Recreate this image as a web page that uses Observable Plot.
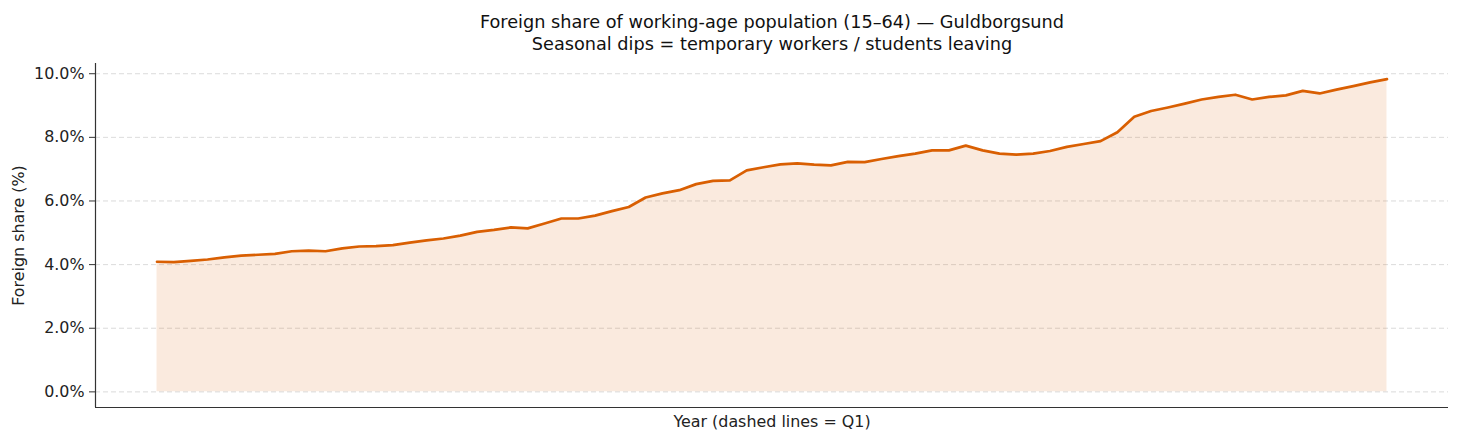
<!DOCTYPE html>
<html>
<head>
<meta charset="utf-8">
<script src="https://cdn.jsdelivr.net/npm/d3@7"></script>
<script src="https://cdn.jsdelivr.net/npm/@observablehq/plot@0.6"></script>
<style>
  html, body { margin: 0; padding: 0; background: #fff; }
  svg { font-family: "DejaVu Sans", sans-serif; }
</style>
</head>
<body>
<div id="chart"></div>
<script>
// Foreign share of working-age population (%), quarterly
const share = [
  4.09, 4.08, 4.12, 4.16, 4.23, 4.28, 4.31, 4.34, 4.42, 4.44,
  4.42, 4.51, 4.57, 4.58, 4.61, 4.69, 4.76, 4.82, 4.91, 5.03,
  5.09, 5.17, 5.14, 5.29, 5.45, 5.45, 5.54, 5.68, 5.81, 6.11,
  6.24, 6.34, 6.53, 6.63, 6.65, 6.96, 7.06, 7.15, 7.18, 7.14,
  7.12, 7.23, 7.22, 7.32, 7.41, 7.49, 7.59, 7.59, 7.74, 7.59,
  7.49, 7.46, 7.49, 7.57, 7.70, 7.79, 7.88, 8.16, 8.65, 8.83,
  8.94, 9.06, 9.19, 9.27, 9.34, 9.19, 9.27, 9.32, 9.46, 9.38,
  9.50, 9.61, 9.73, 9.83
];
const yTicks = [0, 2, 4, 6, 8, 10];
const titleText = "Foreign share of working-age population (15–64) — Guldborgsund\nSeasonal dips = temporary workers / students leaving";
const yLabel = "Foreign share (%)";
const xLabel = "Year (dashed lines = Q1)";

const rows = share.map((v, i) => ({i, v}));
const n = share.length;
const xPad = (n - 1) * 0.05;
const yMax = d3.max(share);
const yPad = yMax * 0.05;

const color = "#d95f02";
const fs = 15.9;

const chart = Plot.plot({
  width: 1460,
  height: 441,
  marginLeft: 95,
  marginRight: 12,
  marginTop: 63,
  marginBottom: 34,
  style: {fontFamily: "DejaVu Sans, sans-serif", fontSize: fs + "px", color: "#222", background: "#fff"},
  x: {domain: [-xPad, n - 1 + xPad], axis: null},
  y: {domain: [-yPad, yMax + yPad], axis: null},
  marks: [
    Plot.ruleY(yTicks, {stroke: "#cccccc", strokeOpacity: 0.7, strokeDasharray: "5,3", strokeWidth: 1}),
    Plot.areaY(rows, {x: "i", y: "v", fill: color, fillOpacity: 0.13}),
    Plot.lineY(rows, {x: "i", y: "v", stroke: color, strokeWidth: 2.7}),
    Plot.axisY({ticks: yTicks, tickSize: 6, tickPadding: 5, tickFormat: d => d.toFixed(1) + "%", label: null, fontSize: fs, stroke: "#333", fill: "#222"}),
    Plot.ruleX([-xPad], {stroke: "#333", strokeWidth: 1.2}),
    Plot.ruleY([-yPad], {stroke: "#333", strokeWidth: 1.2}),
    Plot.text([yLabel], {frameAnchor: "left", dx: -77, rotate: -90, textAnchor: "middle", lineAnchor: "middle", fontSize: fs, fill: "#222"}),
    Plot.text([xLabel], {frameAnchor: "bottom", dy: 14, lineAnchor: "middle", fontSize: fs, fill: "#222"}),
    Plot.text([titleText], {frameAnchor: "top", dy: -32, lineAnchor: "middle", lineHeight: 1.25, fontSize: 17.7, fill: "#111"})
  ]
});
document.getElementById("chart").appendChild(chart);
</script>
</body>
</html>
